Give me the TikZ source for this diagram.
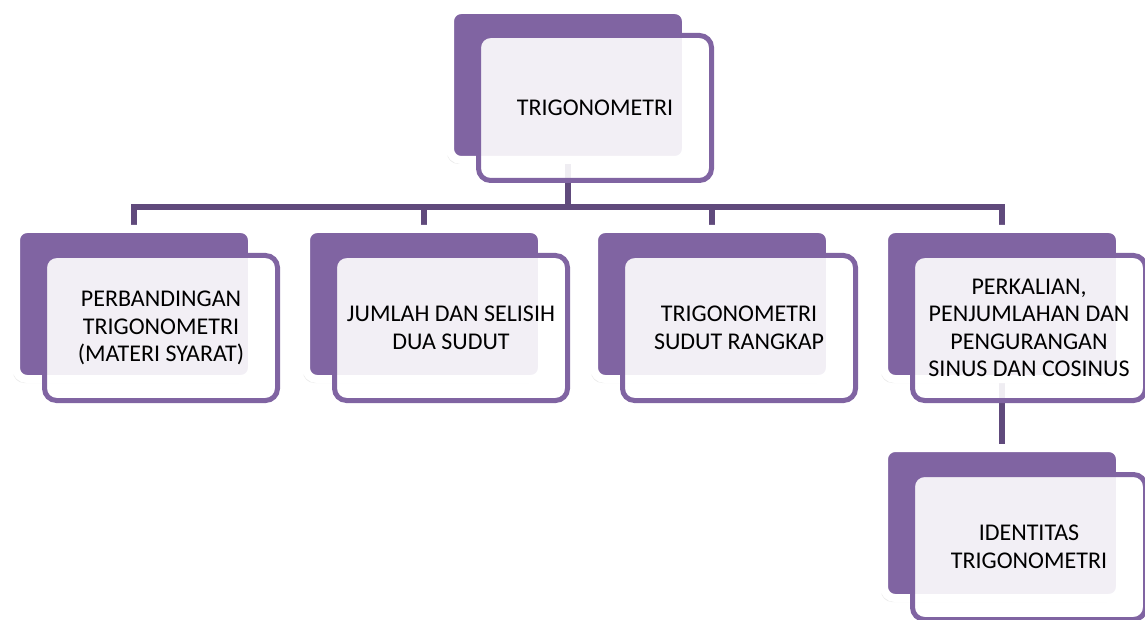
\documentclass[tikz,border=0pt]{standalone}
\usepackage{fontspec}
\setmainfont{Carlito}
\usetikzlibrary{shadows,backgrounds}
\definecolor{accent}{RGB}{128,100,162}
\definecolor{linkcol}{RGB}{96,74,124}
\begin{document}
\begin{tikzpicture}[x=1pt,y=-1pt,
  back/.style={rectangle,rounded corners=11pt,fill=accent,draw=white,line width=8pt,minimum width=236pt,minimum height=150pt,inner sep=0pt,drop shadow={shadow xshift=-3pt,shadow yshift=-4pt,opacity=.15}},
  front/.style={rectangle,rounded corners=12pt,draw=accent,line width=5pt,fill=white,fill opacity=.9,text opacity=1,minimum width=233pt,minimum height=145pt,inner sep=0pt,align=center,font=\fontsize{24}{27.5}\selectfont},
  link/.style={linkcol,line width=5.5pt}]
\useasboundingbox (0,0) rectangle (1145,620);
% top box
\node[back] (tb) at (568,85) {};
\node[front] (t) at (595,108) {TRIGONOMETRI};
% second level
\node[back] (b1) at (134,304) {};
\node[front] (c1) at (161,328) {PERBANDINGAN\\TRIGONOMETRI\\(MATERI SYARAT)};
\node[back] (b2) at (424,304) {};
\node[front] (c2) at (451,328) {JUMLAH DAN SELISIH\\DUA SUDUT};
\node[back] (b3) at (712,304) {};
\node[front] (c3) at (739,328) {TRIGONOMETRI\\SUDUT RANGKAP};
\node[back] (b4) at (1002,304) {};
\node[front] (c4) at (1029,328) {PERKALIAN,\\PENJUMLAHAN DAN\\PENGURANGAN\\SINUS DAN COSINUS};
% third level
\node[back] (b5) at (1002,523) {};
\node[front] (c5) at (1029,547) {IDENTITAS\\TRIGONOMETRI};
\coordinate (bus) at (568,207);
\begin{pgfonlayer}{background}
\foreach \i in {1,...,4}
  \draw[link] (tb.center) -- (bus) -| (b\i.center);
\draw[link] (b4.center) -- (b5.center);
\end{pgfonlayer}
\end{tikzpicture}
\end{document}
